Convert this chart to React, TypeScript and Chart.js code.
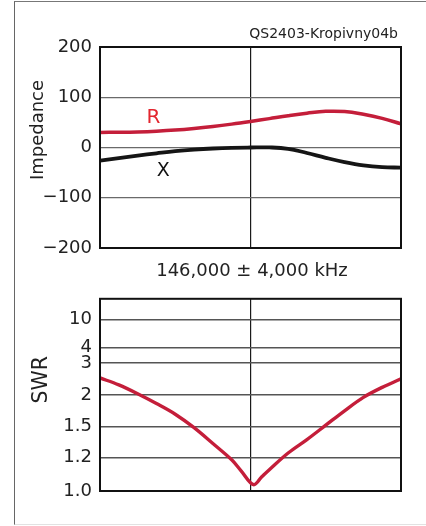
import React, { useEffect, useRef } from 'react';
import { Chart, LineController, LineElement, PointElement, LinearScale } from 'chart.js';

Chart.register(LineController, LineElement, PointElement, LinearScale);

const FONT = '"DejaVu Sans", sans-serif';
const RED = '#c41e3a';
const LABEL_RED = '#e3262f';

// ---- Impedance chart data (frequency in MHz) ----
const freqMHz = [142, 142.5, 143, 143.5, 144, 144.5, 145, 145.5, 146, 146.5, 147, 147.5, 148, 148.5, 149, 149.5, 150];
const resistance = [30, 30.3, 31, 32.4, 34.6, 37.8, 41.8, 46.5, 51.8, 57.5, 63.2, 68.2, 72, 71.5, 66, 58, 47];
const reactance = [-26, -21, -16, -11.5, -7.3, -4.2, -2, -0.6, 0, 0.2, -2.5, -11, -20.5, -29, -35.5, -39, -40];
const impedanceTicks = [-200, -100, 0, 100, 200];
const freqGridTicks = [142, 146, 150];
const freqMin = 142;
const freqMax = 150;

const curveLabels = ['R', 'X'];
const curveLabelFreq = [143.42, 143.68];
const curveLabelImp = [60, -46];

const chartId = 'QS2403-Kropivny04b';
const xTitle = '146,000 \u00b1 4,000 kHz';
const impTitle = 'Impedance';
const swrTitle = 'SWR';

// ---- SWR chart data ----
const swrFreqMHz = [142, 142.5, 143, 143.5, 144, 144.5, 145, 145.5, 145.75, 146.08, 146.3, 146.5, 147, 147.5, 148, 148.5, 149, 149.5, 150];
const swrValues = [2.48, 2.27, 2.03, 1.85, 1.68, 1.49, 1.33, 1.187, 1.117, 1.035, 1.081, 1.124, 1.242, 1.368, 1.521, 1.733, 1.956, 2.2, 2.45];
const swrTicks = [1.0, 1.2, 1.5, 2, 3, 4, 10];
const swrTickLabels = ['1.0', '1.2', '1.5', '2', '3', '4', '10'];
// chart's own non-linear SWR scale: tick value -> relative scale position (0..6)
const swrTickPos = [0, 1.036, 2.006, 3, 4, 4.48, 5.35];
const SWR_POS_MAX = 6;

function swrToPos(s: number): number {
  if (s <= swrTicks[0]) return swrTickPos[0];
  for (let i = 1; i < swrTicks.length; i++) {
    if (s <= swrTicks[i]) {
      const t = (Math.log(s) - Math.log(swrTicks[i - 1])) / (Math.log(swrTicks[i]) - Math.log(swrTicks[i - 1]));
      return swrTickPos[i - 1] + t * (swrTickPos[i] - swrTickPos[i - 1]);
    }
  }
  const last = swrTicks.length - 1;
  const rho = (s - 1) / (s + 1);
  const rhoL = (swrTicks[last] - 1) / (swrTicks[last] + 1);
  return swrTickPos[last] + ((rho - rhoL) / (1 - rhoL)) * (SWR_POS_MAX - swrTickPos[last]);
}

class SwrScale extends (LinearScale as any) {
  static id = 'swr';
  static defaults = (LinearScale as any).defaults;
  determineDataLimits() {
    (this as any).min = swrTicks[0];
    (this as any).max = swrTicks[swrTicks.length - 1];
  }
  buildTicks() {
    return swrTicks.map((v) => ({ value: v }));
  }
  getPixelForValue(v: number) {
    if (v === null || v === undefined || isNaN(v)) return NaN;
    return (this as any).getPixelForDecimal(swrToPos(v) / SWR_POS_MAX);
  }
  getValueForPixel() {
    return (this as any).min;
  }
}
Chart.register(SwrScale as any);

const framePlugin = {
  id: 'frame',
  afterDatasetsDraw(chart: any) {
    const { ctx, chartArea: a } = chart;
    ctx.save();
    ctx.strokeStyle = '#111';
    ctx.lineWidth = 2;
    ctx.strokeRect(a.left, a.top, a.right - a.left, a.bottom - a.top);
    ctx.restore();
  },
};

const impTextPlugin = {
  id: 'impTexts',
  afterDraw(chart: any) {
    const { ctx, chartArea: a, scales } = chart;
    ctx.save();
    ctx.fillStyle = '#222';
    ctx.font = `14px ${FONT}`;
    ctx.textAlign = 'right';
    ctx.textBaseline = 'alphabetic';
    ctx.fillText(chartId, a.right - 3, a.top - 9);

    ctx.font = `18px ${FONT}`;
    ctx.textAlign = 'center';
    ctx.fillText(xTitle, (a.left + a.right) / 2 + 1.5, a.bottom + 28);

    ctx.save();
    ctx.translate(a.left - 57, a.top + 83);
    ctx.rotate(-Math.PI / 2);
    ctx.font = `18px ${FONT}`;
    ctx.textAlign = 'center';
    ctx.textBaseline = 'alphabetic';
    ctx.fillText(impTitle, 0, 0);
    ctx.restore();

    const colors = [LABEL_RED, '#111'];
    const sizes = [20, 19];
    curveLabels.forEach((t, i) => {
      ctx.fillStyle = colors[i];
      ctx.font = `${sizes[i]}px ${FONT}`;
      ctx.textAlign = 'center';
      ctx.textBaseline = 'middle';
      ctx.fillText(t, scales.x.getPixelForValue(curveLabelFreq[i]), scales.y.getPixelForValue(curveLabelImp[i]));
    });
    ctx.restore();
  },
};

const swrTextPlugin = {
  id: 'swrTexts',
  afterDraw(chart: any) {
    const { ctx, chartArea: a } = chart;
    ctx.save();
    ctx.fillStyle = '#222';
    ctx.translate(a.left - 53.5, a.top + 81);
    ctx.rotate(-Math.PI / 2);
    ctx.font = `20.5px ${FONT}`;
    ctx.textAlign = 'center';
    ctx.textBaseline = 'alphabetic';
    ctx.fillText(swrTitle, 0, 0);
    ctx.restore();
  },
};

function xScaleOptions() {
  return {
    type: 'linear',
    min: freqMin,
    max: freqMax,
    afterBuildTicks: (axis: any) => {
      axis.ticks = freqGridTicks.map((v) => ({ value: v }));
    },
    ticks: { display: false },
    grid: {
      color: (ctx: any) => (ctx.tick && ctx.tick.value === 146 ? '#1a1a1a' : 'rgba(0,0,0,0)'),
      lineWidth: 1.2,
      drawTicks: false,
    },
    border: { display: false },
    afterFit: (s: any) => {
      s.height = 0;
    },
  };
}

export default function App() {
  const ref1 = useRef<HTMLCanvasElement>(null);
  const ref2 = useRef<HTMLCanvasElement>(null);

  useEffect(() => {
    Chart.defaults.font.family = FONT;
    const c1 = new Chart(ref1.current as HTMLCanvasElement, {
      type: 'line',
      data: {
        datasets: [
          {
            data: freqMHz.map((f, i) => ({ x: f, y: resistance[i] })),
            borderColor: RED,
            borderWidth: 3.5,
            pointRadius: 0,
            tension: 0.4,
            fill: false,
          },
          {
            data: freqMHz.map((f, i) => ({ x: f, y: reactance[i] })),
            borderColor: '#151515',
            borderWidth: 3.8,
            pointRadius: 0,
            tension: 0.4,
            fill: false,
          },
        ],
      },
      options: {
        responsive: false,
        animation: false,
        events: [],
        layout: { padding: { left: 0, right: 25, top: 47, bottom: 42 } },
        plugins: { legend: { display: false }, tooltip: { enabled: false } },
        scales: {
          x: xScaleOptions() as any,
          y: {
            type: 'linear',
            min: -200,
            max: 200,
            afterBuildTicks: (axis: any) => {
              axis.ticks = impedanceTicks.map((v) => ({ value: v }));
            },
            ticks: {
              font: { family: FONT, size: 18 },
              color: '#222',
              padding: 8,
              autoSkip: false,
              callback: (v: any) => (v < 0 ? '\u2212' + Math.abs(v) : String(v)),
            },
            grid: { color: '#6a6a6a', lineWidth: 1.2, drawTicks: false },
            border: { display: false },
            afterFit: (s: any) => {
              s.width = 100;
            },
          } as any,
        },
      },
      plugins: [framePlugin, impTextPlugin],
    } as any);

    const c2 = new Chart(ref2.current as HTMLCanvasElement, {
      type: 'line',
      data: {
        datasets: [
          {
            data: swrFreqMHz.map((f, i) => ({ x: f, y: swrValues[i] })),
            borderColor: RED,
            borderWidth: 3.4,
            pointRadius: 0,
            tension: 0.35,
            fill: false,
          },
        ],
      },
      options: {
        responsive: false,
        animation: false,
        events: [],
        layout: { padding: { left: 0, right: 25, top: 11, bottom: 35 } },
        plugins: { legend: { display: false }, tooltip: { enabled: false } },
        scales: {
          x: xScaleOptions() as any,
          y: {
            type: 'swr',
            ticks: {
              font: { family: FONT, size: 18 },
              color: '#222',
              padding: 8,
              autoSkip: false,
              callback: (_v: any, i: number) => swrTickLabels[i],
            },
            grid: { color: '#555', lineWidth: 1.6, drawTicks: false },
            border: { display: false },
            afterFit: (s: any) => {
              s.width = 100;
            },
          } as any,
        },
      },
      plugins: [framePlugin, swrTextPlugin],
    } as any);

    return () => {
      c1.destroy();
      c2.destroy();
    };
  }, []);

  return (
    <div style={{ position: 'absolute', left: 0, top: 0, width: 426, height: 526, overflow: 'hidden', background: '#fff' }}>
      <div
        style={{
          position: 'absolute',
          left: 14,
          top: 1,
          width: 440,
          height: 522,
          borderLeft: '1.5px solid #666',
          borderTop: '1px solid #777',
          borderBottom: '1px solid #e2e2e2',
        }}
      />
      <canvas ref={ref1} width={426} height={290} style={{ position: 'absolute', left: 0, top: 0, width: 426, height: 290 }} />
      <canvas ref={ref2} width={426} height={246} style={{ position: 'absolute', left: 0, top: 280, width: 426, height: 246 }} />
    </div>
  );
}
